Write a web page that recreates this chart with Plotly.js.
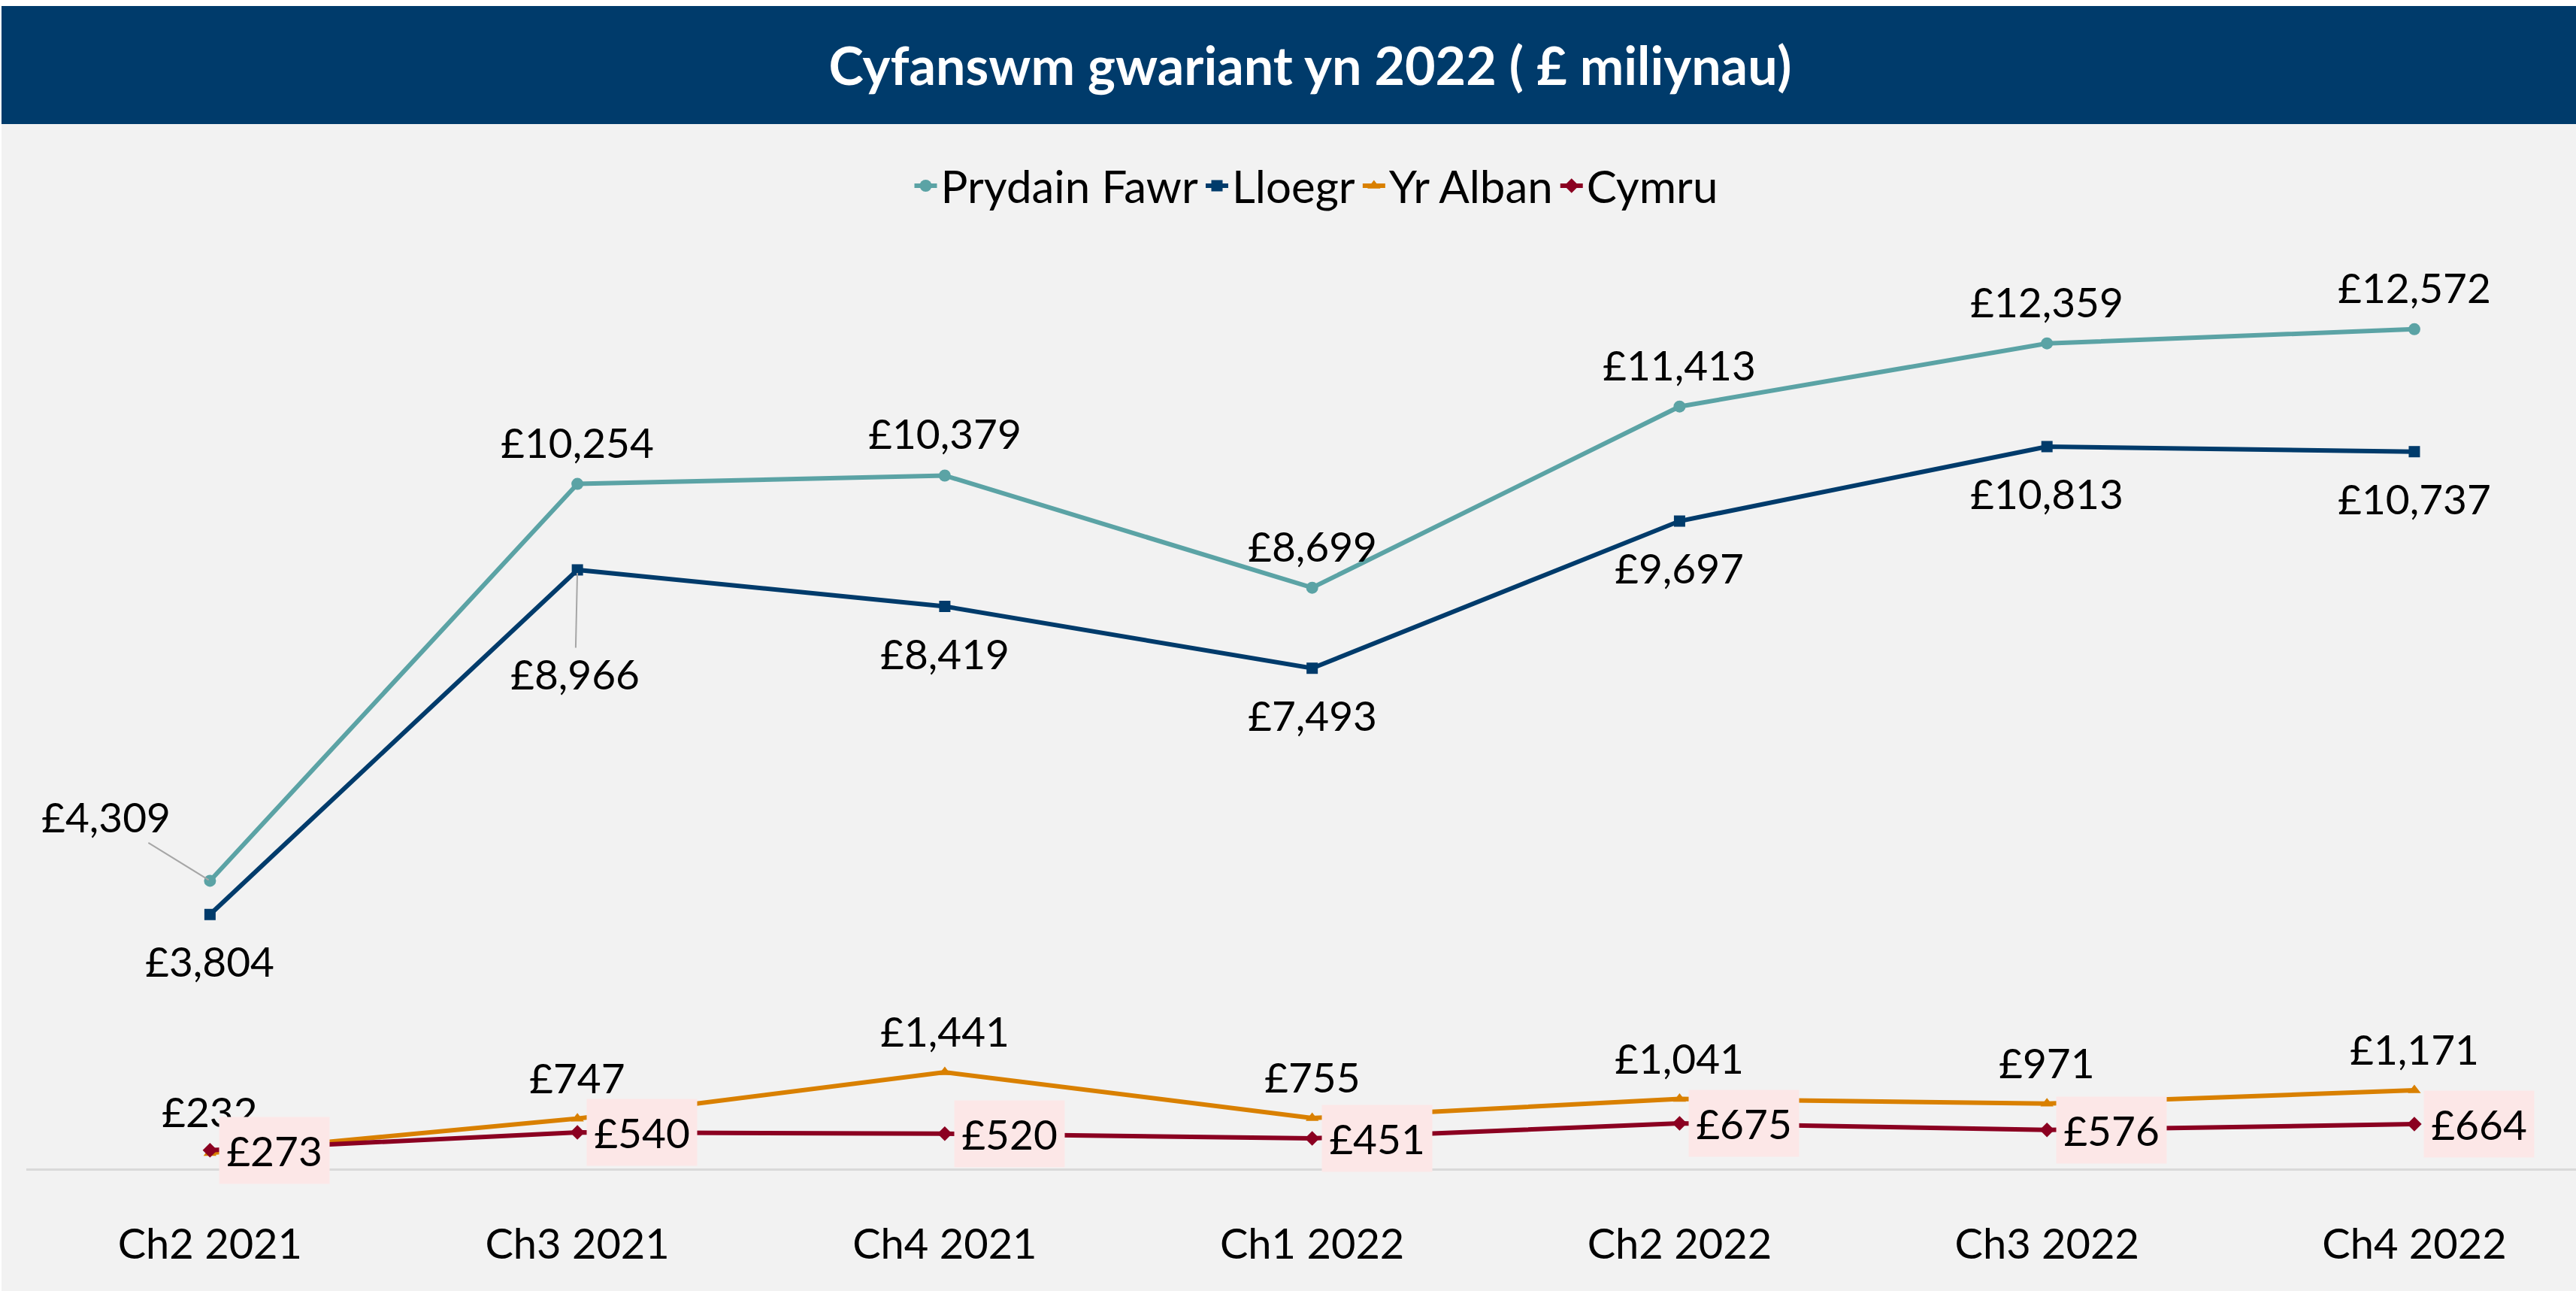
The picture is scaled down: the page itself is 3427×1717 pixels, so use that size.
<!DOCTYPE html>
<html>
<head>
<meta charset="utf-8">
<script src="https://cdn.plot.ly/plotly-3.0.1.min.js"></script>
<style>
    body { margin: 0; padding: 0; background: #ffffff; }
    #chart { width: 3427px; height: 1717px; }
</style>
</head>
<body>
<div id="chart"></div>
<script>
// data (£ millions)
var QUARTERS = ['Ch2 2021', 'Ch3 2021', 'Ch4 2021', 'Ch1 2022', 'Ch2 2022', 'Ch3 2022', 'Ch4 2022'];
var PRYDAIN_FAWR = [4309, 10254, 10379, 8699, 11413, 12359, 12572];
var LLOEGR = [3804, 8966, 8419, 7493, 9697, 10813, 10737];
var YR_ALBAN = [232, 747, 1441, 755, 1041, 971, 1171];
var CYMRU = [273, 540, 520, 451, 675, 576, 664];

var FONT = "Lato, 'Open Sans', sans-serif";
var W = 3427, H = 1717;
var M = { l: 35, r: 0, t: 311, b: 163 };

// pixel -> paper helpers for the decorations
function px2x(p) { return (p - M.l) / (W - M.l - M.r); }
function py2y(p) { return (H - M.b - p) / (H - M.t - M.b); }

function money(v) {
    return '£' + v.toLocaleString('en-GB');
}

function makeTrace(name, values, color, symbol, size) {
    return {
        name: name,
        x: QUARTERS,
        y: values,
        type: 'scatter',
        mode: 'lines+markers',
        line: { color: color, width: 6 },
        marker: { color: color, symbol: symbol, size: size },
        hoverinfo: 'skip'
    };
}

var traces = [
    makeTrace('Prydain Fawr', PRYDAIN_FAWR, '#5ba3a5', 'circle', 16),
    makeTrace('Lloegr', LLOEGR, '#003b6b', 'square', 15),
    makeTrace('Yr Alban', YR_ALBAN, '#d98000', 'triangle-up', 15),
    makeTrace('Cymru', CYMRU, '#8b0021', 'diamond', 15)
];

var labelFont = { family: FONT, size: 55, color: '#000000' };
var annotations = [];

for (var i = 0; i < QUARTERS.length; i++) {
    // Prydain Fawr above
    var a = {
        x: QUARTERS[i], y: PRYDAIN_FAWR[i], text: money(PRYDAIN_FAWR[i]),
        showarrow: false, yshift: 56, font: labelFont
    };
    if (i == 0) {
        a = {
            x: QUARTERS[i], y: PRYDAIN_FAWR[i], text: money(PRYDAIN_FAWR[i]),
            showarrow: true, ax: -138, ay: -85, arrowhead: 0, arrowwidth: 2,
            arrowcolor: '#a6a6a6', standoff: 2, font: labelFont
        };
    }
    annotations.push(a);

    // Lloegr below
    var b = {
        x: QUARTERS[i], y: LLOEGR[i], text: money(LLOEGR[i]),
        showarrow: false, yshift: -62, font: labelFont
    };
    if (i == 1) {
        b = {
            x: QUARTERS[i], y: LLOEGR[i], text: money(LLOEGR[i]),
            showarrow: true, ax: -3, ay: 138, arrowhead: 0, arrowwidth: 2,
            arrowcolor: '#a6a6a6', standoff: 4, font: labelFont
        };
    }
    annotations.push(b);

    // Yr Alban above
    annotations.push({
        x: QUARTERS[i], y: YR_ALBAN[i], text: money(YR_ALBAN[i]),
        showarrow: false, yshift: 55, font: labelFont
    });
}
// Cymru to the right, on pink boxes (pushed last so they sit on top)
for (var j = 0; j < QUARTERS.length; j++) {
    annotations.push({
        x: QUARTERS[j], y: CYMRU[j], text: money(CYMRU[j]),
        showarrow: false, xshift: 86, width: 144, height: 86,
        bgcolor: '#fce7e7', font: labelFont
    });
}

var shapes = [
    // dark title band
    {
        type: 'rect', xref: 'paper', yref: 'paper', layer: 'below',
        x0: px2x(2), x1: px2x(W), y0: py2y(165), y1: py2y(8),
        fillcolor: '#003b6b', line: { width: 0 }
    },
    // thin white edges
    {
        type: 'rect', xref: 'paper', yref: 'paper', layer: 'below',
        x0: px2x(0), x1: px2x(W), y0: py2y(8), y1: py2y(0),
        fillcolor: '#ffffff', line: { width: 0 }
    },
    {
        type: 'rect', xref: 'paper', yref: 'paper', layer: 'below',
        x0: px2x(0), x1: px2x(2), y0: py2y(H), y1: py2y(0),
        fillcolor: '#ffffff', line: { width: 0 }
    }
];

var layout = {
    width: W,
    height: H,
    margin: { l: M.l, r: M.r, t: M.t, b: M.b, pad: 0 },
    paper_bgcolor: '#f2f2f2',
    plot_bgcolor: 'rgba(0,0,0,0)',
    font: { family: FONT, size: 55, color: '#000000' },
    title: {
        text: '<b>Cyfanswm gwariant yn 2022 ( £ miliynau)</b>',
        font: { family: FONT, size: 70, color: '#ffffff' },
        xref: 'container', yref: 'container',
        x: 1743 / W, y: 1 - 88 / H,
        xanchor: 'center', yanchor: 'middle'
    },
    showlegend: true,
    legend: {
        orientation: 'h',
        x: px2x(1751), y: py2y(247),
        xanchor: 'center', yanchor: 'middle',
        font: { family: FONT, size: 60, color: '#000000' },
        bgcolor: 'rgba(0,0,0,0)',
        itemwidth: 30
    },
    xaxis: {
        type: 'category',
        range: [-0.5, 6.44],
        showgrid: false,
        zeroline: false,
        showline: true,
        linecolor: '#d9d9d9',
        linewidth: 3,
        ticks: '',
        ticklabelstandoff: 50,
        tickfont: { family: FONT, size: 56, color: '#000000' },
        fixedrange: true
    },
    yaxis: {
        range: [0, 14000],
        visible: false,
        showgrid: false,
        zeroline: false,
        fixedrange: true
    },
    shapes: shapes,
    annotations: annotations
};

var config = { displayModeBar: false, staticPlot: true };
Plotly.newPlot('chart', traces, layout, config);
</script>
</body>
</html>
